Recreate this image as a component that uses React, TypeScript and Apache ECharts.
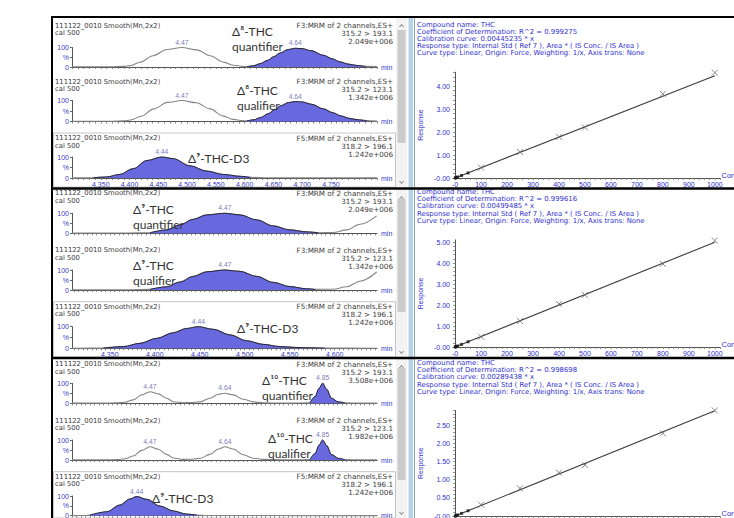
import React, { useEffect, useRef } from "react";
import * as echarts from "echarts";

// ================= DATA =================
// Chromatogram traces: [retention time (min), relative intensity %]
// Row 1: Δ8-THC quantifier / qualifier, Δ9-THC-D3
const r1Quant = [[4.300,1],[4.340,1],[4.370,1.5],[4.390,3],[4.401,7],[4.418,24],[4.441,58],[4.465,90],[4.491,100],[4.517,88],[4.540,58],[4.563,25],[4.581,9],[4.596,3],[4.604,2],[4.615,6],[4.627,17],[4.640,34],[4.650,52],[4.662,72],[4.675,89],[4.688,96],[4.700,94],[4.715,84],[4.737,60],[4.752,42],[4.766,26],[4.780,15],[4.795,8],[4.810,3],[4.830,2]];
const r1Qual = [[4.300,1],[4.340,1],[4.370,1.5],[4.390,3],[4.402,7],[4.420,25],[4.442,60],[4.466,91],[4.491,100],[4.516,89],[4.540,60],[4.562,27],[4.580,10],[4.596,4],[4.604,3],[4.616,8],[4.628,19],[4.641,37],[4.652,56],[4.664,76],[4.676,90],[4.688,95],[4.700,93],[4.716,82],[4.737,60],[4.753,42],[4.768,26],[4.782,15],[4.797,8],[4.812,4],[4.830,2]];
const r1IS = [[4.300,0.5],[4.330,0.5],[4.337,1],[4.360,5],[4.383,17],[4.407,45],[4.430,83],[4.456,100],[4.476,92],[4.505,58],[4.534,33],[4.563,17],[4.592,8],[4.610,3],[4.640,1],[4.830,0.5]];
// Row 2: Δ9-THC quantifier / qualifier, Δ9-THC-D3
const r2Quant = [[4.308,1],[4.340,1],[4.370,1.5],[4.3947,3],[4.4132,17],[4.428,42],[4.4428,70],[4.4577,92],[4.478,100],[4.4947,92],[4.5132,67],[4.5317,37],[4.5502,17],[4.5688,7],[4.5817,3],[4.5983,4],[4.6133,17],[4.628,45],[4.6466,87]];
const r2Qual = [[4.308,1],[4.340,1],[4.370,1.5],[4.3947,3],[4.4132,16],[4.428,40],[4.4428,68],[4.4577,91],[4.478,100],[4.4947,93],[4.5132,68],[4.5317,38],[4.5502,17],[4.5688,6],[4.5780,3],[4.5983,4],[4.6133,16],[4.628,44],[4.6466,90]];
const r2IS = [[4.308,0.5],[4.3428,1],[4.365,8],[4.3836,23],[4.4021,46],[4.4206,72],[4.4354,92],[4.4484,100],[4.465,88],[4.4836,62],[4.5021,35],[4.5206,18],[4.5391,8],[4.5613,3],[4.5891,1],[4.647,0.5]];
// Row 3: Δ10-THC quantifier / qualifier, Δ9-THC-D3
const r3Quant = [[4.300,1],[4.380,1],[4.400,2],[4.4178,5],[4.4363,17],[4.4548,42],[4.4733,58],[4.4918,47],[4.5104,25],[4.5252,8],[4.5474,3],[4.5650,4],[4.5844,7],[4.6067,25],[4.6252,45],[4.640,50],[4.6585,42],[4.6807,20],[4.7029,7],[4.7252,2],[4.780,1],[4.8289,2],[4.840,33],[4.8496,75],[4.857,100],[4.866,70],[4.877,25],[4.8918,7],[4.9067,2],[4.940,1],[4.978,1]];
const r3Qual = [[4.300,1],[4.380,1],[4.400,2],[4.4178,6],[4.4363,20],[4.4548,48],[4.4733,66],[4.4918,54],[4.5104,28],[4.5252,10],[4.5474,3],[4.5650,4],[4.5844,8],[4.6067,28],[4.6252,55],[4.640,66],[4.6585,55],[4.6807,26],[4.7029,9],[4.7252,3],[4.780,1],[4.8289,2],[4.840,32],[4.8496,75],[4.857,100],[4.866,72],[4.877,27],[4.8918,8],[4.9067,2],[4.940,1],[4.978,1]];
const r3IS = [[4.300,0.5],[4.330,1],[4.340,3],[4.3771,20],[4.4067,54],[4.4289,85],[4.4437,97],[4.466,83],[4.4956,49],[4.5252,24],[4.5548,8],[4.5770,3],[4.600,1],[4.978,0.5]];

// Integrated (filled) retention-time windows per trace
const integrationWindows = [[4.600,4.815],[4.600,4.815],[4.335,4.615],[4.39,4.585],[4.39,4.58],[4.34,4.59],[4.825,4.91],[4.825,4.91],[4.335,4.58]];

// Apex labels: [rt, intensity, label]
const peakLabels = [
  [[4.491,100,"4.47"],[4.688,96,"4.64"]],
  [[4.491,100,"4.47"],[4.688,95,"4.64"]],
  [[4.456,100,"4.44"]],
  [[4.478,100,"4.47"]],
  [[4.478,100,"4.47"]],
  [[4.4484,100,"4.44"]],
  [[4.4733,58,"4.47"],[4.640,50,"4.64"],[4.857,100,"4.85"]],
  [[4.4733,66,"4.47"],[4.640,66,"4.64"],[4.857,100,"4.85"]],
  [[4.4437,97,"4.44"]],
];

const traceTitle = "111122_0010 Smooth(Mn,2x2)";
const sampleName = "cal 500";
const channelNames = ["F3:MRM of 2 channels,ES+","F3:MRM of 2 channels,ES+","F5:MRM of 2 channels,ES+","F3:MRM of 2 channels,ES+","F3:MRM of 2 channels,ES+","F5:MRM of 2 channels,ES+","F3:MRM of 2 channels,ES+","F3:MRM of 2 channels,ES+","F5:MRM of 2 channels,ES+"];
const transitions = ["315.2 > 193.1","315.2 > 123.1","318.2 > 196.1","315.2 > 193.1","315.2 > 123.1","318.2 > 196.1","315.2 > 193.1","315.2 > 123.1","318.2 > 196.1"];
const intensities = ["2.049e+006","1.342e+006","1.242e+006","2.049e+006","1.342e+006","1.242e+006","3.508e+006","1.982e+006","1.242e+006"];
const annotations = [
  ["Δ⁸-THC","quantifier"],["Δ⁸-THC","qualifier"],["Δ⁹-THC-D3"],
  ["Δ⁹-THC","quantifier"],["Δ⁹-THC","qualifier"],["Δ⁹-THC-D3"],
  ["Δ¹⁰-THC","quantifier"],["Δ¹⁰-THC","qualifier"],["Δ⁹-THC-D3"],
];

// x-axis ranges and tick labels of the three chromatogram rows
const rtRanges = [[4.300,4.830],[4.308,4.647],[4.300,4.978]];
const rtTickLabels1 = [4.35,4.40,4.45,4.50,4.55,4.60,4.65,4.70,4.75];
const rtTickLabels2 = [4.35,4.40,4.45,4.50,4.55,4.60];
const rtTickLabels3 = [4.35,4.40,4.45,4.50,4.55,4.60,4.65,4.70,4.75,4.80,4.85,4.90,4.95];
const intensityTicks = [0,50,100];
const intensityTickText = ["0","%","100"];

// Calibration curves (Conc vs Response)
const calR2 = ["0.999275","0.999616","0.998698"];
const calSlope = ["0.00445235","0.00499485","0.00289438"];
const cal1Points = [[100,0.45],[250,1.13],[400,1.79],[500,2.2],[800,3.66],[1000,4.58]];
const cal1Low = [[1,0.005],[2.5,0.011],[5,0.022],[10,0.045],[25,0.11],[50,0.22]];
const cal1Fit = [[0,0],[1000,4.45]];
const cal2Points = [[100,0.49],[250,1.24],[400,2.05],[500,2.48],[800,3.96],[1000,5.07]];
const cal2Low = [[1,0.005],[2.5,0.012],[5,0.025],[10,0.05],[25,0.125],[50,0.25]];
const cal2Fit = [[0,0],[1000,4.99]];
const cal3Points = [[100,0.31],[250,0.76],[400,1.19],[500,1.4],[800,2.27],[1000,2.9]];
const cal3Low = [[1,0.003],[2.5,0.007],[5,0.014],[10,0.029],[25,0.072],[50,0.145]];
const cal3Fit = [[0,0],[1000,2.89]];
const concTickLabels = [0,100,200,300,400,500,600,700,800,900,1000];
const respTickLabels1 = [0,1,2,3,4];
const respTickLabels2 = [0,1,2,3,4,5];
const respTickLabels3 = [0,0.5,1,1.5,2,2.5];
const respMax = [4.6,5.1,2.9];

// ================= LAYOUT / STYLE =================
const FONT = "'Liberation Sans', Arial, sans-serif";
const WIDE_FONT = "'DejaVu Sans', Verdana, sans-serif";
const ANN_FONT = "Lato, 'Open Sans', sans-serif";
const BLUE = "#3a3ac6";
const CAL_BLUE = "#2f2fd2";
const FILL = "#6868df";

const chromLayout = [
  { row: 0, top: 47.5, bottom: 67, head: 25.5 },
  { row: 0, top: 100.5, bottom: 121.5, head: 81.5 },
  { row: 0, top: 157, bottom: 178, head: 138 },
  { row: 1, top: 213.3, bottom: 233.3, head: 193 },
  { row: 1, top: 270, bottom: 290, head: 250 },
  { row: 1, top: 326.7, bottom: 348.3, head: 306.7 },
  { row: 2, top: 383.3, bottom: 403.3, head: 364 },
  { row: 2, top: 440, bottom: 460, head: 420.7 },
  { row: 2, top: 496, bottom: 515.7, head: 476.7 },
];
const annLayout = [
  [232, 31, 46], [237, 90, 105], [188, 158],
  [133, 209, 224], [133, 265, 280], [237, 328],
  [262, 380, 395], [268, 438, 453], [152, 498],
];
const calLayout = [
  { top: 178 - 4.6 * 23, bottom: 178, text: 24.5 },
  { top: 347 - 5.1 * 21, bottom: 347, text: 192 },
  { top: 516 - 2.9 * 36.4, bottom: 516, text: 363 },
];
const rowBounds = [[18, 187], [190, 357], [359, 518]];
const thumbs = [[30, 143], [199, 312], [368, 480]];

function range(a: number, b: number, s: number) {
  const out: number[] = [];
  for (let v = a; v <= b + 1e-9; v += s) out.push(Math.round(v * 10000) / 10000);
  return out;
}

function buildOption() {
  const traces = [r1Quant, r1Qual, r1IS, r2Quant, r2Qual, r2IS, r3Quant, r3Qual, r3IS];
  const rtLabels = [rtTickLabels1, rtTickLabels2, rtTickLabels3];
  const rtTickStep = [0.01, 0.005, 0.01];
  const grids: any[] = [];
  const xAxis: any[] = [];
  const yAxis: any[] = [];
  const series: any[] = [];
  const graphic: any[] = [];

  const txt = (text: string, x: number, y: number, o: any = {}) => ({
    type: "text",
    z: 50,
    style: {
      text, x, y,
      fill: o.fill || "#3a3a3a",
      fontSize: o.size || 7,
      fontFamily: o.family || FONT,
      align: o.align || "left",
      textAlign: o.align || "left",
      verticalAlign: "middle",
      textVerticalAlign: "middle",
    },
  });

  traces.forEach((pts, i) => {
    const L = chromLayout[i];
    const rng = rtRanges[L.row];
    grids.push({ left: 72, width: 305, top: L.top, height: L.bottom - L.top, outerBoundsMode: "none", containLabel: false });
    const isLast = i % 3 === 2;
    xAxis.push({
      type: "value", gridIndex: i, min: rng[0], max: rng[1],
      axisLine: { show: true, onZero: false, lineStyle: { color: "#555", width: 1 } },
      axisTick: { show: true, customValues: range(Math.ceil(rng[0] / rtTickStep[L.row]) * rtTickStep[L.row], rng[1], rtTickStep[L.row]), length: 2, lineStyle: { color: "#666", width: 0.8 } },
      axisLabel: { show: isLast && L.row < 2, customValues: rtLabels[L.row], formatter: (v: number) => v.toFixed(3), fontSize: 7, color: BLUE, margin: 3, fontFamily: FONT },
      splitLine: { show: false },
      name: "min", nameLocation: "end", nameGap: 4,
      nameTextStyle: { fontSize: 7, color: BLUE, fontFamily: FONT },
    });
    yAxis.push({
      type: "value", gridIndex: i, min: 0, max: 100,
      axisLine: { show: true, lineStyle: { color: "#555", width: 1 } },
      axisTick: { show: true, customValues: intensityTicks, length: 2, lineStyle: { color: "#666" } },
      axisLabel: { show: true, customValues: intensityTicks, formatter: (v: number) => intensityTickText[intensityTicks.indexOf(v)], fontSize: 7, color: BLUE, margin: 3, fontFamily: FONT },
      splitLine: { show: false },
    });
    series.push({
      type: "line", xAxisIndex: i, yAxisIndex: i, data: pts, smooth: 0.35, smoothMonotone: "x",
      symbol: "none", clip: false, z: 2, lineStyle: { color: "#858585", width: 1.1 },
    });
    const w = integrationWindows[i];
    series.push({
      type: "line", xAxisIndex: i, yAxisIndex: i,
      data: pts.filter((p) => p[0] >= w[0] && p[0] <= w[1]),
      smooth: 0.35, smoothMonotone: "x", symbol: "none", clip: false, z: 3,
      lineStyle: { color: "#26263a", width: 1 },
      areaStyle: { color: FILL, opacity: 1 },
    });
    series.push({
      type: "scatter", xAxisIndex: i, yAxisIndex: i, data: peakLabels[i],
      symbolSize: 1, itemStyle: { color: "rgba(0,0,0,0)" }, z: 4, silent: true,
      label: { show: true, position: "top", distance: 1.5, formatter: (p: any) => p.value[2], fontSize: 6.8, color: "#5656ae", fontFamily: FONT },
    });

    // headers
    graphic.push(txt(traceTitle, 55, L.head, { size: 6.8, family: WIDE_FONT }));
    graphic.push(txt(sampleName, 55, L.head + 7.5, { size: 6.8, family: WIDE_FONT }));
    graphic.push(txt(channelNames[i], 393, L.head, { align: "right", size: 7.2, family: WIDE_FONT }));
    graphic.push(txt(transitions[i], 393, L.head + 8, { align: "right", size: 7.2, family: WIDE_FONT }));
    graphic.push(txt(intensities[i], 393, L.head + 16, { align: "right", size: 7.2, family: WIDE_FONT }));
    // annotation
    const A = annLayout[i];
    annotations[i].forEach((s, k) => {
      graphic.push(txt(s, A[0], A[1 + k], { size: 12, family: ANN_FONT, fill: "#333" }));
    });
  });

  // calibration panels
  const calPts = [cal1Points, cal2Points, cal3Points];
  const calLow = [cal1Low, cal2Low, cal3Low];
  const calFit = [cal1Fit, cal2Fit, cal3Fit];
  const respLabels = [respTickLabels1, respTickLabels2, respTickLabels3];
  const respStep = [0.2, 0.2, 0.1];
  calLayout.forEach((C, k) => {
    const gi = 9 + k;
    grids.push({ left: 453, width: 267, top: C.top, height: C.bottom - C.top, outerBoundsMode: "none", containLabel: false });
    xAxis.push({
      type: "value", gridIndex: gi, min: -8, max: 1020,
      axisLine: { show: true, onZero: false, lineStyle: { color: "#555", width: 1 } },
      axisTick: { show: true, customValues: range(0, 1020, 20), length: 2, lineStyle: { color: "#777", width: 0.8 } },
      axisLabel: { show: k < 2, customValues: concTickLabels, formatter: (v: number) => (v === 0 ? "-0" : String(v)), fontSize: 7, color: CAL_BLUE, margin: 2.5, fontFamily: FONT },
      splitLine: { show: false },
      name: "Con", nameLocation: "end", nameGap: 1.5,
      nameTextStyle: { fontSize: 7.5, color: CAL_BLUE, fontFamily: FONT, verticalAlign: "bottom", padding: [0, 0, -1, 0] },
    });
    yAxis.push({
      type: "value", gridIndex: gi, min: 0, max: respMax[k],
      axisLine: { show: true, lineStyle: { color: "#555", width: 1 } },
      axisTick: { show: true, customValues: range(0, respMax[k], respStep[k]), length: 2, lineStyle: { color: "#777", width: 0.8 } },
      axisLabel: { show: true, customValues: respLabels[k], formatter: (v: number) => (v === 0 ? "-0.00" : v.toFixed(2)), fontSize: 7, color: CAL_BLUE, margin: 3, fontFamily: FONT },
      splitLine: { show: false },
      name: "Response", nameLocation: "middle", nameGap: 29, nameRotate: 90,
      nameTextStyle: { fontSize: 7, color: CAL_BLUE, fontFamily: FONT },
    });
    series.push({
      type: "line", xAxisIndex: gi, yAxisIndex: gi, data: calFit[k], symbol: "none", z: 2,
      lineStyle: { color: "#3c3c3c", width: 1.1 },
    });
    series.push({
      type: "scatter", xAxisIndex: gi, yAxisIndex: gi, data: calPts[k], z: 3,
      symbol: "path://M0,0L10,10M10,0L0,10", symbolSize: 6,
      itemStyle: { color: "rgba(0,0,0,0)", borderColor: "#6a6a6a", borderWidth: 1 },
    });
    series.push({
      type: "scatter", xAxisIndex: gi, yAxisIndex: gi, data: calLow[k], z: 3,
      symbol: "rect", symbolSize: 3, itemStyle: { color: "#1a1a1a" },
    });
    const lines = [
      "Compound name: THC",
      "Coefficient of Determination: R^2 = " + calR2[k],
      "Calibration curve: " + calSlope[k] + " * x",
      "Response type: Internal Std ( Ref 7 ), Area * ( IS Conc. / IS Area )",
      "Curve type: Linear, Origin: Force, Weighting: 1/x, Axis trans: None",
    ];
    lines.forEach((s, j) => graphic.push(txt(s, 417, C.text + j * 7.2, { fill: CAL_BLUE, size: 6.9, family: WIDE_FONT })));
  });

  // window chrome: scrollbars, splitter, boxes, frames
  rowBounds.forEach((rb, k) => {
    graphic.push({ type: "rect", z: 10, shape: { x: 396, y: rb[0], width: 11, height: rb[1] - rb[0] }, style: { fill: "#f3f3f3" } });
    graphic.push({ type: "rect", z: 11, shape: { x: 397.5, y: thumbs[k][0], width: 8, height: thumbs[k][1] - thumbs[k][0] }, style: { fill: "#cbcbcb" } });
    graphic.push({ type: "polyline", z: 11, shape: { points: [[399.5, rb[0] + 9], [401.5, rb[0] + 6.5], [403.5, rb[0] + 9]] }, style: { stroke: "#666", fill: null, lineWidth: 0.9 } });
    graphic.push({ type: "polyline", z: 11, shape: { points: [[399.5, rb[1] - 6], [401.5, rb[1] - 3.5], [403.5, rb[1] - 6]] }, style: { stroke: "#666", fill: null, lineWidth: 0.9 } });
    const boxTop = chromLayout[k * 3 + 2].head - 5;
    graphic.push({ type: "rect", z: 9, shape: { x: 53.5, y: boxTop, width: 342, height: rb[1] - boxTop }, style: { fill: null, stroke: "#b8b8b8", lineWidth: 0.8 } });
  });
  graphic.push({ type: "rect", z: 12, shape: { x: 408.5, y: 18, width: 4.5, height: 500 }, style: { fill: "#b7d3e9" } });
  graphic.push({ type: "line", z: 12, shape: { x1: 414.5, y1: 18, x2: 414.5, y2: 518 }, style: { stroke: "#8aa6bf", lineWidth: 1 } });
  graphic.push({ type: "line", z: 100, shape: { x1: 52, y1: 17, x2: 734, y2: 17 }, style: { stroke: "#000", lineWidth: 2 } });
  graphic.push({ type: "line", z: 100, shape: { x1: 52, y1: 16, x2: 52, y2: 518 }, style: { stroke: "#000", lineWidth: 2 } });
  graphic.push({ type: "line", z: 100, shape: { x1: 52, y1: 188.5, x2: 734, y2: 188.5 }, style: { stroke: "#000", lineWidth: 2.5 } });
  graphic.push({ type: "line", z: 100, shape: { x1: 52, y1: 358, x2: 734, y2: 358 }, style: { stroke: "#000", lineWidth: 2.5 } });

  return {
    animation: false,
    backgroundColor: "#ffffff",
    textStyle: { fontFamily: FONT },
    grid: grids,
    xAxis,
    yAxis,
    series,
    graphic,
  };
}

export default function App() {
  const ref = useRef<HTMLDivElement>(null);
  useEffect(() => {
    if (!ref.current) return;
    const chart = echarts.init(ref.current, null, { renderer: "svg" });
    chart.setOption(buildOption() as any);
    return () => chart.dispose();
  }, []);
  return <div ref={ref} style={{ position: "absolute", left: 0, top: 0, width: 734, height: 518, background: "#fff" }} />;
}
